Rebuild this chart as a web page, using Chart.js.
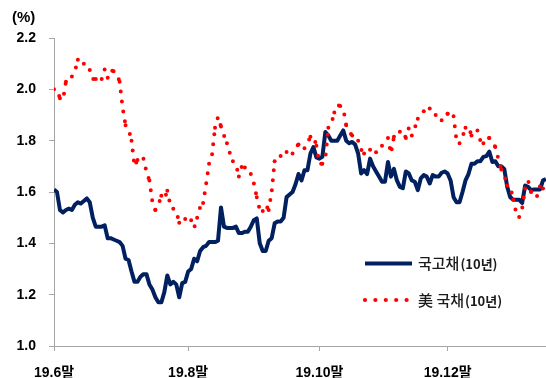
<!DOCTYPE html>
<html>
<head>
<meta charset="utf-8">
<script src="https://cdn.jsdelivr.net/npm/chart.js@4"></script>
<style>
  html, body { margin: 0; padding: 0; background: #fff; }
</style>
</head>
<body>
<canvas id="yieldChart" width="546" height="378"></canvas>
<script>
// 10-year yields (%), one value per business day from end of June 2019
const ktb10y = [
  1.61, 1.60, 1.53, 1.52, 1.53, 1.535, 1.53, 1.55, 1.56, 1.555,
  1.565, 1.575, 1.56, 1.50, 1.465, 1.465, 1.465, 1.47, 1.42, 1.42,
  1.415, 1.41, 1.405, 1.39, 1.34, 1.335, 1.29, 1.25, 1.25, 1.27,
  1.28, 1.28, 1.24, 1.22, 1.19, 1.17, 1.17, 1.21, 1.275, 1.24,
  1.25, 1.24, 1.19, 1.245, 1.25, 1.29, 1.30, 1.34, 1.33, 1.37,
  1.385, 1.39, 1.405, 1.405, 1.405, 1.41, 1.54, 1.465, 1.46, 1.46,
  1.46, 1.465, 1.44, 1.44, 1.445, 1.445, 1.465, 1.49, 1.497, 1.40,
  1.37, 1.37, 1.41, 1.42, 1.478, 1.485, 1.485, 1.50, 1.58, 1.59,
  1.60, 1.63, 1.67, 1.645, 1.685, 1.685, 1.75, 1.775, 1.735, 1.73,
  1.737, 1.834, 1.82, 1.80, 1.80, 1.80, 1.82, 1.84, 1.80, 1.79,
  1.795, 1.785, 1.75, 1.672, 1.685, 1.67, 1.73, 1.70, 1.68, 1.66,
  1.64, 1.64, 1.717, 1.66, 1.69, 1.645, 1.62, 1.615, 1.68, 1.672,
  1.645, 1.64, 1.607, 1.653, 1.666, 1.66, 1.633, 1.666, 1.66, 1.66,
  1.675, 1.68, 1.672, 1.645, 1.58, 1.56, 1.56, 1.60, 1.645, 1.67,
  1.71, 1.71, 1.72, 1.72, 1.737, 1.74, 1.757, 1.717, 1.72, 1.70,
  1.70, 1.69, 1.62, 1.58, 1.57, 1.57, 1.57, 1.557, 1.625, 1.62,
  1.607, 1.61, 1.61, 1.61, 1.645, 1.65
];
const ust10y = [
  2.00, 2.00, 1.965, 1.958, 2.03, 2.045, 2.05, 2.07, 2.115, 2.12,
  2.10, 2.09, 2.075, 2.04, 2.04, 2.04, 2.04, 2.078, 2.045, 2.075,
  2.07, 2.063, 2.03, 1.93, 1.86, 1.845, 1.80, 1.70, 1.725, 1.74,
  1.73, 1.68, 1.645, 1.56, 1.53, 1.55, 1.585, 1.57, 1.605, 1.55,
  1.535, 1.525, 1.48, 1.495, 1.495, 1.49, 1.49, 1.46, 1.50, 1.54,
  1.557, 1.63, 1.71, 1.745, 1.85, 1.893, 1.855, 1.82, 1.79, 1.75,
  1.72, 1.71, 1.66, 1.70, 1.695, 1.68, 1.67, 1.635, 1.58, 1.53,
  1.526, 1.55, 1.53, 1.60, 1.72, 1.735, 1.74, 1.75, 1.756, 1.755,
  1.75, 1.776, 1.785, 1.77, 1.77, 1.79, 1.815, 1.82, 1.78, 1.71,
  1.71, 1.73, 1.85, 1.865, 1.91, 1.94, 1.935, 1.925, 1.86, 1.835,
  1.82, 1.81, 1.80, 1.765, 1.75, 1.765, 1.765, 1.745, 1.755, 1.77,
  1.78, 1.79, 1.81, 1.75, 1.815, 1.83, 1.835, 1.84, 1.81, 1.85,
  1.82, 1.85, 1.885, 1.90, 1.915, 1.92, 1.925, 1.922, 1.90, 1.89,
  1.88, 1.88, 1.905, 1.90, 1.895, 1.80, 1.79, 1.815, 1.85, 1.857,
  1.82, 1.835, 1.84, 1.80, 1.79, 1.815, 1.81, 1.80, 1.775, 1.73,
  1.688, 1.665, 1.625, 1.625, 1.57, 1.52, 1.503, 1.536, 1.614, 1.645,
  1.60, 1.584, 1.584, 1.624, 1.614, 1.62
];
const seriesNames = ["국고채(10년)", "美 국채(10년)"];
// day index of each month-end tick and its label
const xTickPos = [0, 45, 89, 132];
const xTickLabels = ["19.6말", "19.8말", "19.10말", "19.12말"];

const dayIndex = ust10y.map((_, i) => i);
const NAVY = "#002060";
const RED = "#ff0000";
const AXIS = "#a6a6a6";
const FONT = "'Liberation Sans', 'Noto Sans CJK KR', Arial, sans-serif";
const KFONT = "'Noto Sans CJK KR', 'Liberation Sans', sans-serif";

// unit label and the in-plot legend
const decorations = {
  id: "decorations",
  afterDraw(chart) {
    const ctx = chart.ctx;
    ctx.save();
    ctx.fillStyle = "#000";
    ctx.textBaseline = "middle";
    ctx.font = "bold 15px " + FONT;
    ctx.fillText("(%)", 12, 18);

    // solid line entry
    ctx.strokeStyle = NAVY;
    ctx.lineWidth = 4;
    ctx.lineCap = "butt";
    ctx.beginPath();
    ctx.moveTo(365, 263.5);
    ctx.lineTo(412, 263.5);
    ctx.stroke();
    // dotted entry
    ctx.fillStyle = RED;
    for (let k = 0; k < 5; k++) {
      ctx.beginPath();
      ctx.arc(365 + k * 10.4, 300, 2.1, 0, Math.PI * 2);
      ctx.fill();
    }
    ctx.fillStyle = "#1a1a1a";
    const parts = [[seriesNames[0], 263], [seriesNames[1], 300]];
    parts.forEach(([name, y]) => {
      const cut = name.indexOf("(");
      const head = name.slice(0, cut);
      const tail = name.slice(cut);
      ctx.font = "500 15px " + KFONT;
      ctx.fillText(head, 418, y);
      const w = ctx.measureText(head).width;
      ctx.font = "bold 13px " + KFONT;
      ctx.fillText(tail, 418 + w + 1, y + 1);
    });
    ctx.restore();
  }
};

new Chart(document.getElementById("yieldChart"), {
  type: "line",
  data: {
    labels: dayIndex,
    datasets: [
      {
        label: seriesNames[0],
        data: ktb10y,
        borderColor: NAVY,
        borderWidth: 4,
        borderJoinStyle: "round",
        pointRadius: 0,
        tension: 0,
        order: 1
      },
      {
        label: seriesNames[1],
        data: ust10y,
        borderColor: RED,
        borderWidth: 4,
        borderCapStyle: "round",
        borderDash: [0, 10],
        pointRadius: 0,
        tension: 0,
        order: 0,
        // restart the dot pattern every two points, like the source chart
        segment: {
          borderDash: c => (Math.floor(c.p0DataIndex / 2) % 2 ? [0, 10.01] : [0, 10])
        }
      }
    ]
  },
  options: {
    responsive: false,
    animation: false,
    layout: { padding: { top: 38, right: 0, bottom: 0, left: 0 } },
    plugins: {
      legend: { display: false },
      tooltip: { enabled: false }
    },
    scales: {
      x: {
        type: "linear",
        min: 0,
        max: dayIndex.length - 1,
        afterBuildTicks: s => { s.ticks = xTickPos.map(v => ({ value: v })); },
        afterFit: s => { s.height = 32; },
        grid: { drawOnChartArea: false, drawTicks: true, tickLength: 5, color: AXIS },
        border: { color: AXIS, width: 1 },
        ticks: {
          autoSkip: false,
          maxRotation: 0,
          padding: 14,
          color: "#000",
          font: { family: FONT, size: 14, weight: "bold" },
          callback: v => xTickLabels[xTickPos.indexOf(v)]
        }
      },
      y: {
        min: 1.0,
        max: 2.2,
        afterFit: s => { s.width = 54; },
        grid: { drawOnChartArea: false, drawTicks: true, tickLength: 5, color: AXIS },
        border: { color: AXIS, width: 1 },
        ticks: {
          stepSize: 0.2,
          padding: 13,
          color: "#000",
          font: { family: FONT, size: 14, weight: "bold" },
          callback: v => v.toFixed(1)
        }
      }
    }
  },
  plugins: [decorations]
});
</script>
</body>
</html>
